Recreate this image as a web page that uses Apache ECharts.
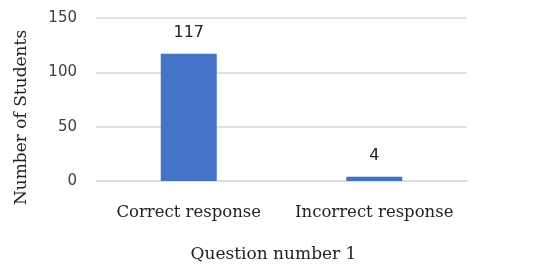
<!DOCTYPE html>
<html>
<head>
<meta charset="utf-8">
<script src="https://cdn.jsdelivr.net/npm/echarts@6/dist/echarts.min.js"></script>
<style>
  html, body { margin: 0; padding: 0; background: #fff; }
  #chart { width: 536px; height: 270px; }
</style>
</head>
<body>
<div id="chart"></div>
<script>
// data
const categories = ['Correct response', 'Incorrect response'];
const students = [117, 4];
const yTicks = { min: 0, max: 150, interval: 50 };

const serif = '"DejaVu Serif", "Liberation Serif", serif';
const sans = '"DejaVu Sans", sans-serif';

let myChart = echarts.init(document.getElementById('chart'));
let option = {
  animation: false,
  grid: { left: 96, right: 69, top: 18, bottom: 89 },
  xAxis: {
    type: 'category',
    data: categories,
    name: 'Question number 1',
    nameLocation: 'middle',
    nameGap: 65,
    nameTextStyle: { fontFamily: serif, fontSize: 17, color: '#222', padding: [0, 16, 0, 0] },
    axisTick: { show: false },
    axisLine: { lineStyle: { color: '#d9d9d9', width: 1.5 } },
    axisLabel: {
      fontFamily: serif, fontSize: 16.5, color: '#222', margin: 23,
      interval: 0, hideOverlap: false
    }
  },
  yAxis: {
    type: 'value',
    min: yTicks.min,
    max: yTicks.max,
    interval: yTicks.interval,
    name: 'Number of Students',
    nameLocation: 'middle',
    nameGap: 66,
    // right padding pushes the rotated title down to sit lower like the original
    nameTextStyle: { fontFamily: serif, fontSize: 17, color: '#222', padding: [0, 36, 0, 0] },
    axisLine: { show: false },
    axisTick: { show: false },
    axisLabel: { fontFamily: sans, fontSize: 15, color: '#404040', margin: 19 },
    splitLine: { lineStyle: { color: '#d9d9d9', width: 1.5 } }
  },
  series: [{
    type: 'bar',
    data: students,
    barWidth: 56,
    itemStyle: { color: '#4472C4' },
    label: {
      show: true,
      position: 'top',
      distance: 13,
      fontFamily: sans,
      fontSize: 16,
      color: '#222'
    }
  }]
};
myChart.setOption(option);
</script>
</body>
</html>
